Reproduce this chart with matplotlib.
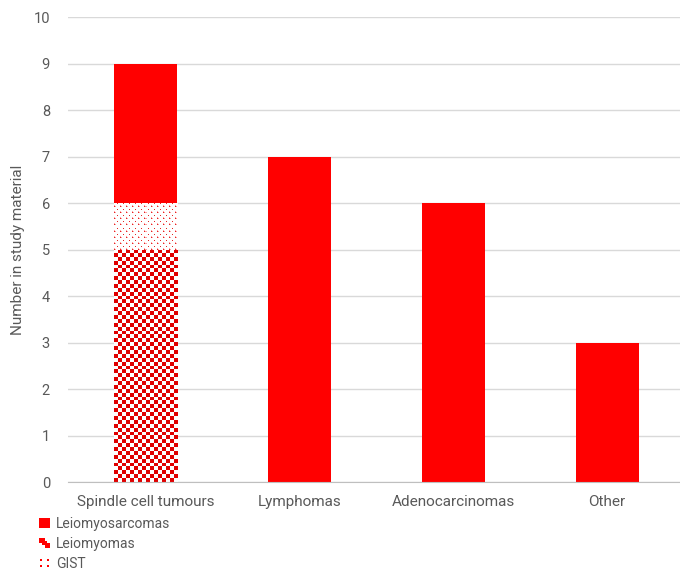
import numpy as np
import matplotlib.pyplot as plt
from matplotlib.patches import Rectangle, Patch
from matplotlib.legend_handler import HandlerBase

categories = ['Spindle cell tumours', 'Lymphomas', 'Adenocarcinomas', 'Other']
# spindle cell tumour breakdown (stacked bottom -> top)
leiomyomas = 5
gist = 1
leiomyosarcomas = 3
# single-colour totals for the remaining categories
other_totals = [7, 6, 3]
yticks = list(range(0, 11))

RED = '#ff0000'
GREY = '#595959'

plt.rcParams['font.family'] = ['Roboto', 'DejaVu Sans']

fig = plt.figure(figsize=(6.8, 5.72), dpi=100)
ax = fig.add_axes([0.1, 0.157, 0.9, 0.813])

width = 0.41
x = np.arange(len(categories))


def checker(rows, cols):
    img = np.ones((rows, cols, 3))
    mask = (np.add.outer(np.arange(rows), np.arange(cols)) % 2) == 0
    img[mask] = [0.88, 0.0, 0.0]
    return img


def dots(rows, cols, period=6):
    img = np.ones((rows, cols, 3))
    r, c = np.indices((rows, cols))
    on = ((r % period == 0) & (c % period == 0)) | \
         ((r % period == period // 2) & (c % period == period // 2))
    img[on] = [0.9, 0.15, 0.15]
    near = ((r % period == 1) & (c % period == 0)) | ((r % period == 0) & (c % period == 1))
    img[near] = [1.0, 0.65, 0.65]
    return img


def textured_bar(xpos, bottom, height, img):
    rect = ax.bar(xpos, height, width, bottom=bottom, color='white', zorder=2)[0]
    im = ax.imshow(img, extent=(xpos - width / 2, xpos + width / 2, bottom, bottom + height),
                   aspect='auto', interpolation='nearest', zorder=3, origin='lower')
    im.set_clip_path(rect)
    return rect


# spindle cell stack
textured_bar(x[0], 0, leiomyomas, checker(leiomyomas * 12, 16))
textured_bar(x[0], leiomyomas, gist, dots(gist * 46, 63))
ax.bar(x[0], leiomyosarcomas, width, bottom=leiomyomas + gist, color=RED, zorder=3)

ax.bar(x[1:], other_totals, width, color=RED, zorder=3)

ax.set_xlim(-0.507, 3.474)
ax.set_ylim(0, 10)
ax.set_yticks(yticks)
ax.set_xticks(x)
ax.set_xticklabels(categories)
ax.tick_params(axis='both', length=0, colors=GREY, labelsize=10.5)
ax.tick_params(axis='x', labelsize=11, pad=9)
ax.tick_params(axis='y', pad=13)
ax.grid(axis='y', color='#d9d9d9', linewidth=1, zorder=0)
ax.set_axisbelow(True)
for s in ['top', 'right', 'left']:
    ax.spines[s].set_visible(False)
ax.spines['bottom'].set_color('#bfbfbf')
ax.spines['bottom'].set_zorder(4)
ax.set_ylabel('Number in study material', color=GREY, fontsize=11, labelpad=6)


class SwatchHandler(HandlerBase):
    def __init__(self, kind):
        super().__init__()
        self.kind = kind

    def create_artists(self, legend, orig_handle, xdescent, ydescent, width, height, fontsize, trans):
        s = min(width, height)
        x0, y0 = -xdescent, -ydescent + (height - s) / 2
        arts = []
        if self.kind == 'solid':
            arts.append(Rectangle((x0, y0), s, s, facecolor=RED, edgecolor='none', transform=trans))
        elif self.kind == 'checker':
            h = s / 2
            arts.append(Rectangle((x0, y0 + h), h, h, facecolor=RED, edgecolor='none', transform=trans))
            arts.append(Rectangle((x0 + h, y0), h, h, facecolor=RED, edgecolor='none', transform=trans))
            arts.append(Rectangle((x0 + h * 0.6, y0 + h * 0.6), h * 0.8, h * 0.8,
                                  facecolor=RED, edgecolor='none', transform=trans))
        else:
            d = s * 0.2
            for dx in (0.1, 0.7):
                for dy in (0.1, 0.7):
                    arts.append(Rectangle((x0 + dx * s, y0 + dy * s), d, d, facecolor=RED,
                                          edgecolor='none', transform=trans))
        return arts


h_sarc = Patch(label='Leiomyosarcomas')
h_myo = Patch(label='Leiomyomas')
h_gist = Patch(label='GIST')
fig.legend(handles=[h_sarc, h_myo, h_gist],
           handler_map={h_sarc: SwatchHandler('solid'), h_myo: SwatchHandler('checker'),
                        h_gist: SwatchHandler('dots')},
           loc='upper left', bbox_to_anchor=(0.058, 0.097), frameon=False,
           fontsize=10, labelcolor=GREY, handlelength=0.75, handleheight=0.75,
           handletextpad=0.45, labelspacing=0.45, borderpad=0, borderaxespad=0)

fig.savefig('out.png', dpi=100)
